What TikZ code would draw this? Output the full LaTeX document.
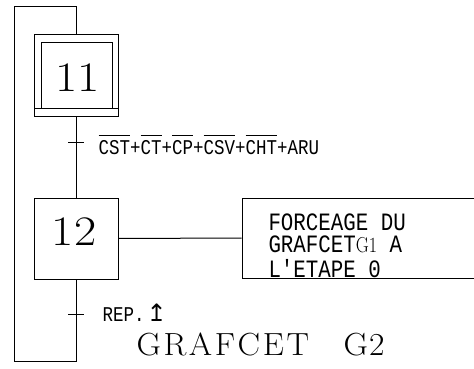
\documentclass[tikz,border=0pt]{standalone}
\usepackage{fontspec}
\newfontfamily\plotfont{Liberation Mono}
\newfontfamily\symfont{DejaVu Sans}
\newcommand\ovl[1]{\leavevmode\vbox{\hrule height 0.9pt\kern 3.2pt\hbox{#1}}}
\newcommand\tk{\kern2.5pt}
\begin{document}
\begin{tikzpicture}[x=1pt,y=-1pt,
  line width=1pt,
  stepbox/.style={draw, minimum width=84pt, minimum height=81pt, inner sep=0pt},
  num/.style={font=\fontsize{42}{42}\selectfont, inner sep=0pt},
  lbl/.style={font=\plotfont\fontsize{17.5}{17.5}\selectfont, inner sep=0pt},
  tick/.style={line width=1pt}]
\useasboundingbox (0,0) rectangle (474,369);
\clip (0,0) rectangle (474,369);
% steps
\node[stepbox] (s11) at (76,75.5) {};
\draw (41,108) |- (112,43) -- (112,108);
\draw (34,108) -- (118,108);
\node[num] (n11) at (77.5,77.5) {\scalebox{1.15}[1]{11}};
\node[stepbox] (s12) at (76,238.5) {};
\node[num] (n12) at (74,231.5) {\scalebox{1.15}[1]{12}};
% action
\node[draw, minimum width=258pt, minimum height=80pt, inner sep=0pt] (act) at (371,238) {};
\draw (s12.east) -- (act.west);
\node[anchor=north west, inner sep=0pt,
  font=\plotfont\fontsize{20.8}{16.8}\selectfont] (acttext) at (268,213)
  {\scalebox{1}[1.2]{\begin{tabular}[t]{@{}l@{}}FORCEAGE DU\\GRAFCET{\rmfamily\fontsize{18}{18}\selectfont\raisebox{0.5pt}{G1}} A\\L'ETAPE 0\end{tabular}}};
% links
\coordinate (lb) at (14,361);
\coordinate (lt) at (14,7);
\draw (s11.south) -- (s12.north);
\draw (s12.south) |- (lb) -- (lt) -| (s11.north);
% transitions
\coordinate (t1) at (76,142);
\coordinate (t2) at (76,314);
\draw[tick] ([xshift=-8pt]t1) -- ([xshift=8pt]t1);
\draw[tick] ([xshift=-8pt]t2) -- ([xshift=8pt]t2);
\node[lbl, anchor=base west] (tr1) at (98,154)
  {\scalebox{1}[1.2]{\ovl{CST}+\ovl{CT}+\ovl{CP}+\ovl{CSV}+\ovl{CHT}+ARU}};
\node[lbl, anchor=base west] (tr2) at (102,321)
  {\scalebox{1}[1.2]{REP.}\kern2pt{\symfont\fontsize{24}{24}\selectfont ↥}};
% title
\node[anchor=base west, inner sep=0pt,
  font=\fontsize{32}{32}\selectfont] (title) at (136,355)
  {\scalebox{1.05}[1]{G\tk R\tk A\tk F\tk C\tk E\tk T\hspace{33pt}G\kern1pt 2}};
\end{tikzpicture}
\end{document}
